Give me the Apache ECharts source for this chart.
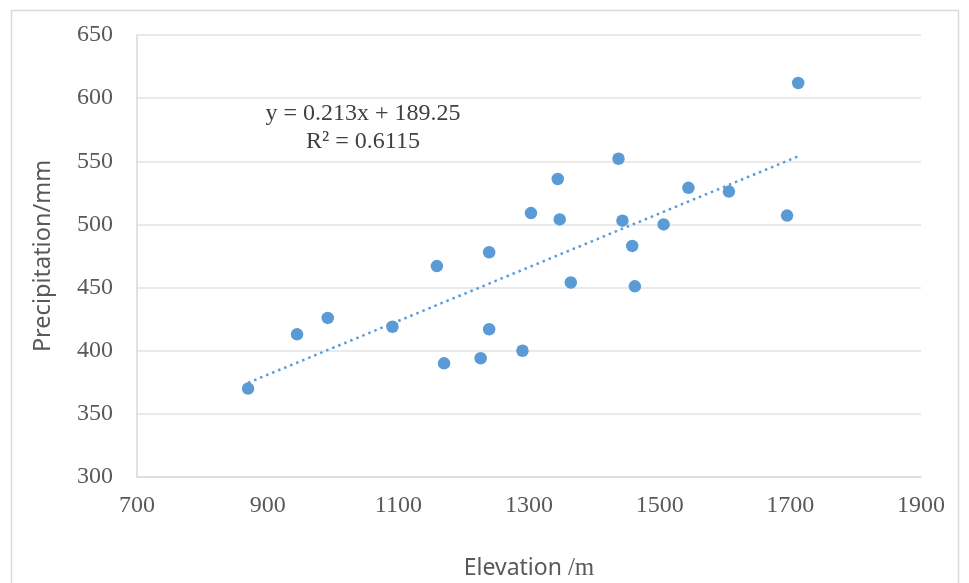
<!DOCTYPE html>
<html>
<head>
<meta charset="utf-8">
<script src="https://cdn.jsdelivr.net/npm/echarts@6/dist/echarts.min.js"></script>
<style>
html,body{margin:0;padding:0;background:#fff;}
#chart{width:969px;height:583px;}
</style>
</head>
<body>
<div id="chart"></div>
<script>
// Data
const elevation = [870, 945, 992, 1091, 1159, 1170, 1226, 1239, 1239, 1290, 1303, 1344, 1347, 1364, 1437, 1443, 1458, 1462, 1506, 1544, 1606, 1695, 1712];
const precipitation = [370, 413, 426, 419, 467, 390, 394, 478, 417, 400, 509, 536, 504, 454, 552, 503, 483, 451, 500, 529, 526, 507, 612];
const xTicks = [700, 900, 1100, 1300, 1500, 1700, 1900];
const yTicks = [300, 350, 400, 450, 500, 550, 600, 650];
const trendSlope = 0.213;
const trendIntercept = 189.25;
const equationText = 'y = 0.213x + 189.25';
const r2Text = 'R² = 0.6115';
const xTitleMain = 'Elevation ';
const xTitleUnit = '/m';
const yTitle = 'Precipitation/mm';

const points = elevation.map((x, i) => [x, precipitation[i]]);
const xMinData = Math.min(...elevation);
const xMaxData = Math.max(...elevation);
const trend = [
  [xMinData, trendSlope * xMinData + trendIntercept],
  [xMaxData, trendSlope * xMaxData + trendIntercept]
];

const chart = echarts.init(document.getElementById('chart'), null, {renderer: 'canvas'});
const serif = '"Liberation Serif", "Times New Roman", serif';
const sans = '"Noto Sans", "DejaVu Sans", sans-serif';

chart.setOption({
  animation: false,
  backgroundColor: '#ffffff',
  graphic: [
    {
      type: 'rect',
      shape: {x: 11.5, y: 10.5, width: 947, height: 590},
      style: {fill: 'none', stroke: '#d9d9d9', lineWidth: 1.5},
      silent: true
    },
    {
      type: 'text',
      x: 363, y: 114,
      style: {text: equationText, font: '24px ' + serif, fill: '#404040', textAlign: 'center', textVerticalAlign: 'middle'},
      silent: true
    },
    {
      type: 'text',
      x: 363, y: 142,
      style: {text: r2Text, font: '24px ' + serif, fill: '#404040', textAlign: 'center', textVerticalAlign: 'middle'},
      silent: true
    }
  ],
  grid: {left: 137, right: 48, top: 35, bottom: 106, containLabel: false, outerBoundsMode: 'none'},
  xAxis: {
    type: 'value',
    min: xTicks[0], max: xTicks[xTicks.length - 1], interval: 200,
    name: '{a|' + xTitleMain + '}{b|' + xTitleUnit + '}',
    nameLocation: 'middle', nameGap: 79,
    nameTextStyle: {
      color: '#595959',
      rich: {
        a: {fontFamily: sans, fontSize: 23, color: '#595959'},
        b: {fontFamily: serif, fontSize: 25, color: '#595959'}
      }
    },
    axisLine: {show: true, lineStyle: {color: '#d9d9d9', width: 1.5}},
    axisTick: {show: false},
    axisLabel: {fontFamily: serif, fontSize: 24, color: '#595959', margin: 17, formatter: v => String(v)},
    splitLine: {show: false}
  },
  yAxis: {
    type: 'value',
    min: yTicks[0], max: yTicks[yTicks.length - 1], interval: 50,
    name: yTitle, nameLocation: 'middle', nameGap: 82,
    nameTextStyle: {fontFamily: sans, fontSize: 23.5, color: '#595959'},
    axisLine: {show: true, lineStyle: {color: '#d9d9d9', width: 1.5}},
    axisTick: {show: false},
    axisLabel: {fontFamily: serif, fontSize: 24, color: '#595959', margin: 24, formatter: v => String(v)},
    splitLine: {show: true, lineStyle: {color: '#e3e3e3', width: 1.5}}
  },
  series: [
    {
      type: 'line',
      data: trend,
      symbol: 'none',
      lineStyle: {color: '#5b9bd5', width: 2.5, type: [2.5, 4]},
      silent: true,
      z: 2
    },
    {
      type: 'scatter',
      data: points,
      symbol: 'circle',
      symbolSize: 12.5,
      itemStyle: {color: '#5b9bd5', opacity: 1},
      z: 3
    }
  ]
});
</script>
</body>
</html>
